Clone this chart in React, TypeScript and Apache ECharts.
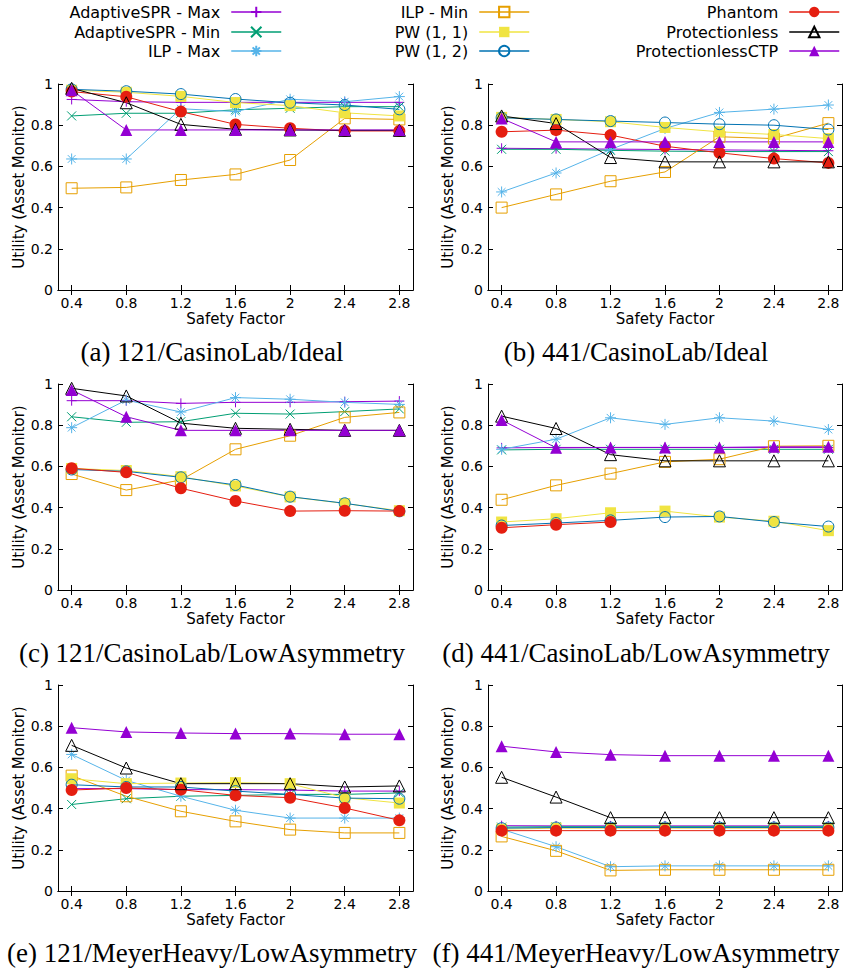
import React, { useEffect, useRef } from 'react';
import * as echarts from 'echarts';

// ---------- data ----------
const xs = [0.4, 0.8, 1.2, 1.6, 2, 2.4, 2.8];
const yTicks = [0, 0.2, 0.4, 0.6, 0.8, 1];
const seriesNames = [
  'AdaptiveSPR - Max',
  'AdaptiveSPR - Min',
  'ILP - Max',
  'ILP - Min',
  'PW (1, 1)',
  'PW (1, 2)',
  'Phantom',
  'Protectionless',
  'ProtectionlessCTP',
];
const captions = [
  '(a) 121/CasinoLab/Ideal',
  '(b) 441/CasinoLab/Ideal',
  '(c) 121/CasinoLab/LowAsymmetry',
  '(d) 441/CasinoLab/LowAsymmetry',
  '(e) 121/MeyerHeavy/LowAsymmetry',
  '(f) 441/MeyerHeavy/LowAsymmetry',
];
const xName = 'Safety Factor';
const yName = 'Utility (Asset Monitor)';

// (a) 121/CasinoLab/Ideal
const aAdaptiveMax = [0.925, 0.914, 0.911, 0.911, 0.911, 0.911, 0.911];
const aAdaptiveMin = [0.845, 0.858, 0.858, 0.875, 0.882, 0.89, 0.89];
const aIlpMax = [0.636, 0.636, 0.88, 0.866, 0.926, 0.914, 0.939];
const aIlpMin = [0.494, 0.498, 0.534, 0.561, 0.631, 0.833, 0.828];
const aPw11 = [0.97, 0.96, 0.94, 0.91, 0.895, 0.86, 0.845];
const aPw12 = [0.974, 0.965, 0.951, 0.927, 0.909, 0.898, 0.877];
const aPhantom = [0.963, 0.938, 0.866, 0.804, 0.785, 0.772, 0.772];
const aProtless = [0.979, 0.909, 0.804, 0.78, 0.777, 0.775, 0.775];
const aProtlessCTP = [0.97, 0.777, 0.777, 0.777, 0.777, 0.777, 0.777];

// (b) 441/CasinoLab/Ideal
const bAdaptiveMax = [0.688, 0.686, 0.684, 0.682, 0.68, 0.678, 0.676];
const bAdaptiveMin = [0.683, 0.683, 0.678, 0.674, 0.672, 0.672, 0.672];
const bIlpMax = [0.476, 0.568, 0.682, 0.784, 0.862, 0.878, 0.898];
const bIlpMin = [0.4, 0.464, 0.528, 0.573, 0.744, 0.735, 0.81];
const bPw11 = [0.838, 0.828, 0.817, 0.789, 0.768, 0.755, 0.735];
const bPw12 = [0.836, 0.828, 0.82, 0.813, 0.805, 0.8, 0.779];
const bPhantom = [0.768, 0.776, 0.752, 0.698, 0.666, 0.638, 0.617];
const bProtless = [0.845, 0.808, 0.643, 0.622, 0.622, 0.622, 0.622];
const bProtlessCTP = [0.833, 0.719, 0.719, 0.719, 0.719, 0.719, 0.719];

// (c) 121/CasinoLab/LowAsymmetry
const cAdaptiveMax = [0.919, 0.919, 0.906, 0.911, 0.911, 0.914, 0.917];
const cAdaptiveMin = [0.841, 0.814, 0.817, 0.858, 0.854, 0.866, 0.879];
const cIlpMax = [0.788, 0.922, 0.864, 0.934, 0.926, 0.911, 0.901];
const cIlpMin = [0.563, 0.485, 0.534, 0.683, 0.749, 0.838, 0.862];
const cPw11 = [0.59, 0.58, 0.55, 0.505, 0.452, 0.42, 0.385];
const cPw12 = [0.585, 0.576, 0.547, 0.51, 0.453, 0.421, 0.382];
const cPhantom = [0.591, 0.571, 0.494, 0.432, 0.383, 0.385, 0.383];
const cProtless = [0.979, 0.942, 0.81, 0.785, 0.78, 0.775, 0.775];
const cProtlessCTP = [0.971, 0.841, 0.775, 0.775, 0.775, 0.775, 0.775];

// (d) 441/CasinoLab/LowAsymmetry
const dAdaptiveMax = [0.69, 0.692, 0.692, 0.692, 0.692, 0.692, 0.692];
const dAdaptiveMin = [0.68, 0.683, 0.683, 0.683, 0.683, 0.683, 0.683];
const dIlpMax = [0.683, 0.732, 0.836, 0.804, 0.836, 0.82, 0.779];
const dIlpMin = [0.438, 0.508, 0.565, 0.622, 0.635, 0.698, 0.7];
const dPw11 = [0.33, 0.346, 0.375, 0.383, 0.354, 0.334, 0.288];
const dPw12 = [0.313, 0.325, 0.338, 0.354, 0.357, 0.33, 0.308];
const dPhantom = [0.302, 0.317, 0.33, null, null, null, null];
const dProtless = [0.844, 0.784, 0.657, 0.627, 0.627, 0.627, 0.627];
const dProtlessCTP = [0.825, 0.69, 0.692, 0.692, 0.692, 0.695, 0.695];

// (e) 121/MeyerHeavy/LowAsymmetry
const eAdaptiveMax = [0.497, 0.497, 0.492, 0.492, 0.49, 0.485, 0.485];
const eAdaptiveMin = [0.42, 0.448, 0.46, 0.464, 0.469, 0.469, 0.476];
const eIlpMax = [0.663, 0.537, 0.46, 0.392, 0.354, 0.354, 0.354];
const eIlpMin = [0.56, 0.46, 0.387, 0.338, 0.298, 0.282, 0.282];
const ePw11 = [0.545, 0.521, 0.524, 0.526, 0.521, 0.453, 0.427];
const ePw12 = [0.516, 0.505, 0.505, 0.485, 0.469, 0.451, 0.448];
const ePhantom = [0.49, 0.5, 0.492, 0.464, 0.453, 0.403, 0.343];
const eProtless = [0.707, 0.597, 0.521, 0.521, 0.521, 0.505, 0.51];
const eProtlessCTP = [0.793, 0.772, 0.767, 0.764, 0.764, 0.761, 0.761];

// (f) 441/MeyerHeavy/LowAsymmetry
const fAdaptiveMax = [0.317, 0.316, 0.316, 0.316, 0.316, 0.316, 0.316];
const fAdaptiveMin = [0.31, 0.312, 0.312, 0.312, 0.312, 0.312, 0.312];
const fIlpMax = [0.3, 0.215, 0.118, 0.122, 0.122, 0.122, 0.122];
const fIlpMin = [0.265, 0.195, 0.1, 0.103, 0.103, 0.103, 0.103];
const fPw11 = [0.3, 0.305, 0.305, 0.305, 0.305, 0.305, 0.305];
const fPw12 = [0.305, 0.308, 0.308, 0.308, 0.308, 0.308, 0.308];
const fPhantom = [0.293, 0.293, 0.293, 0.293, 0.293, 0.293, 0.293];
const fProtless = [0.552, 0.456, 0.356, 0.356, 0.356, 0.356, 0.356];
const fProtlessCTP = [0.703, 0.675, 0.662, 0.657, 0.657, 0.657, 0.657];

const panels: (number | null)[][][] = [
  [aAdaptiveMax, aAdaptiveMin, aIlpMax, aIlpMin, aPw11, aPw12, aPhantom, aProtless, aProtlessCTP],
  [bAdaptiveMax, bAdaptiveMin, bIlpMax, bIlpMin, bPw11, bPw12, bPhantom, bProtless, bProtlessCTP],
  [cAdaptiveMax, cAdaptiveMin, cIlpMax, cIlpMin, cPw11, cPw12, cPhantom, cProtless, cProtlessCTP],
  [dAdaptiveMax, dAdaptiveMin, dIlpMax, dIlpMin, dPw11, dPw12, dPhantom, dProtless, dProtlessCTP],
  [eAdaptiveMax, eAdaptiveMin, eIlpMax, eIlpMin, ePw11, ePw12, ePhantom, eProtless, eProtlessCTP],
  [fAdaptiveMax, fAdaptiveMin, fIlpMax, fIlpMin, fPw11, fPw12, fPhantom, fProtless, fProtlessCTP],
];

// ---------- styles ----------
const SANS = 'DejaVu Sans';
const SERIF = 'Liberation Serif';

const markers = [
  { color: '#9400D3', symbol: 'path://M5,0L5,10M0,5L10,5', size: 10, kind: 'stroke' },
  { color: '#009E73', symbol: 'path://M0,0L10,10M10,0L0,10', size: 9, kind: 'stroke' },
  { color: '#56B4E9', symbol: 'path://M5,0L5,10M0,5L10,5M1.5,1.5L8.5,8.5M8.5,1.5L1.5,8.5', size: 11, kind: 'stroke' },
  { color: '#E69F00', symbol: 'rect', size: 11, kind: 'open' },
  { color: '#F0E442', symbol: 'rect', size: 11, kind: 'fill' },
  { color: '#0072B2', symbol: 'circle', size: 11, kind: 'open' },
  { color: '#E51E10', symbol: 'circle', size: 12, kind: 'fill' },
  { color: '#000000', symbol: 'triangle', size: 12, kind: 'open' },
  { color: '#9400D3', symbol: 'triangle', size: 12, kind: 'fill' },
];

const gridBoxes = [
  { left: 58, top: 84, width: 355, height: 206, nameGap: 32, capX: 212, capY: 352 },
  { left: 488, top: 84, width: 354, height: 206, nameGap: 33, capX: 636, capY: 352 },
  { left: 58, top: 384, width: 355, height: 206, nameGap: 32, capX: 212, capY: 653 },
  { left: 488, top: 384, width: 354, height: 206, nameGap: 33, capX: 636, capY: 653 },
  { left: 58, top: 685, width: 355, height: 206, nameGap: 32, capX: 212, capY: 953 },
  { left: 488, top: 685, width: 354, height: 206, nameGap: 33, capX: 636, capY: 953 },
];

const legendCols = [566, 318, 8];
const legendRows = [4, 24, 43];

function buildOption() {
  const black = '#000';
  const axisLine = { show: true, lineStyle: { color: black, width: 1 } };
  const tick = { show: true, inside: true, length: 5, lineStyle: { color: black, width: 1 } };

  const grid = gridBoxes.map((g) => ({ left: g.left, top: g.top, width: g.width, height: g.height, containLabel: false }));

  const xAxis: any[] = [];
  const yAxis: any[] = [];
  gridBoxes.forEach((g, i) => {
    xAxis.push({
      type: 'value', gridIndex: i, position: 'bottom', min: 0.3, max: 2.9,
      axisLine, axisTick: { ...tick, customValues: xs },
      axisLabel: { customValues: xs, color: black, fontFamily: SANS, fontSize: 14, margin: 6 },
      splitLine: { show: false },
      name: xName, nameLocation: 'middle', nameGap: 21,
      nameTextStyle: { color: black, fontFamily: SANS, fontSize: 15 },
    });
    xAxis.push({
      type: 'value', gridIndex: i, position: 'top', min: 0.3, max: 2.9,
      axisLine, axisTick: { ...tick, customValues: xs },
      axisLabel: { show: false, customValues: xs },
      splitLine: { show: false },
    });
    yAxis.push({
      type: 'value', gridIndex: i, position: 'left', min: 0, max: 1, interval: 0.2,
      axisLine, axisTick: tick,
      axisLabel: { color: black, fontFamily: SANS, fontSize: 14, margin: 5 },
      splitLine: { show: false },
      name: yName, nameLocation: 'middle', nameGap: g.nameGap,
      nameTextStyle: { color: black, fontFamily: SANS, fontSize: 15 },
    });
    yAxis.push({
      type: 'value', gridIndex: i, position: 'right', min: 0, max: 1, interval: 0.2,
      axisLine, axisTick: tick,
      axisLabel: { show: false },
      splitLine: { show: false },
    });
  });

  const series: any[] = [];
  panels.forEach((panel, p) => {
    panel.forEach((vals, k) => {
      const m = markers[k];
      const data = xs.map((x, j) => [x, vals[j]]).filter((d) => d[1] !== null);
      const itemStyle =
        m.kind === 'fill'
          ? { color: m.color, borderWidth: 0 }
          : m.kind === 'open'
          ? { color: 'rgba(0,0,0,0)', borderColor: m.color, borderWidth: 1 }
          : { color: m.color, borderColor: m.color, borderWidth: 1 };
      series.push({
        type: 'line',
        name: seriesNames[k],
        xAxisIndex: 2 * p,
        yAxisIndex: 2 * p,
        data,
        symbol: m.symbol,
        symbolSize: m.size,
        showSymbol: true,
        lineStyle: { color: m.color, width: 1 },
        itemStyle,
        emphasis: { disabled: true },
        silent: true,
      });
    });
  });

  const legend = seriesNames.map((n, k) => ({
    data: [n],
    orient: 'horizontal',
    align: 'right',
    right: legendCols[Math.floor(k / 3)],
    top: legendRows[k % 3],
    padding: 0,
    itemWidth: 50,
    itemHeight: 13,
    selectedMode: false,
    lineStyle: { width: 1.5 },
    textStyle: { color: black, fontFamily: SANS, fontSize: 16, padding: [0, 6, 0, 0] },
  }));

  const graphic = captions.map((c, i) => ({
    type: 'text',
    x: gridBoxes[i].capX,
    y: gridBoxes[i].capY,
    style: {
      text: c,
      fill: black,
      fontFamily: SERIF,
      fontSize: 27,
      align: 'center',
      verticalAlign: 'middle',
    },
  }));

  return {
    animation: false,
    backgroundColor: '#fff',
    grid,
    xAxis,
    yAxis,
    legend,
    series,
    graphic,
  };
}

export default function App() {
  const ref = useRef<HTMLDivElement>(null);
  useEffect(() => {
    if (!ref.current) return;
    const chart = echarts.init(ref.current, undefined, { renderer: 'svg' });
    chart.setOption(buildOption() as any);
    return () => chart.dispose();
  }, []);
  return (
    <div
      ref={ref}
      style={{ position: 'absolute', left: 0, top: 0, width: 848, height: 973, background: '#fff' }}
    />
  );
}
